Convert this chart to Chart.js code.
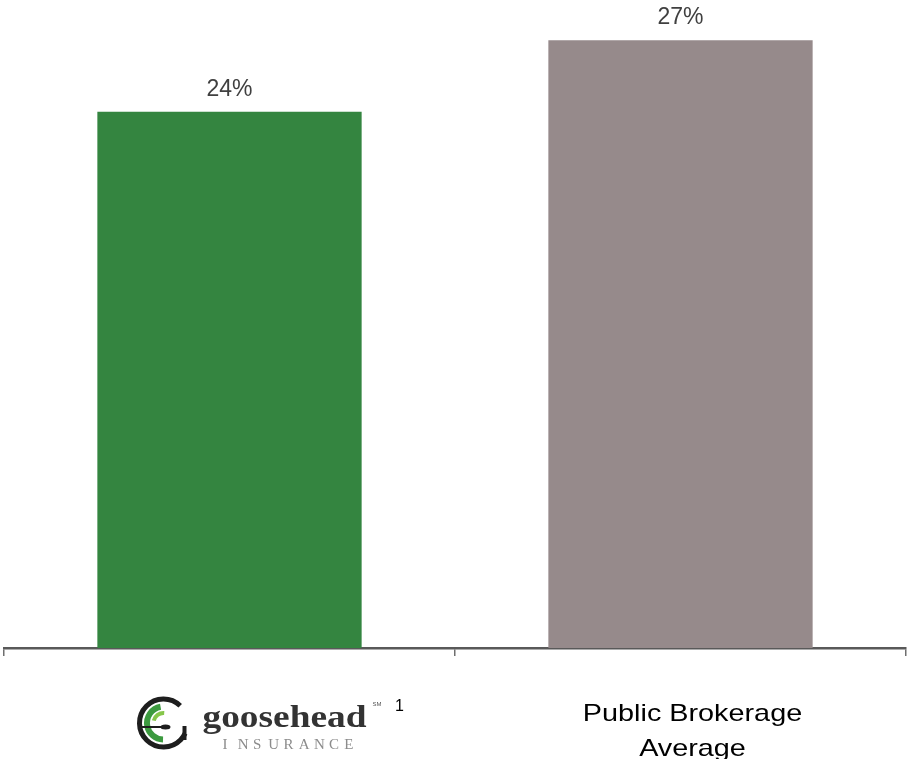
<!DOCTYPE html>
<html><head><meta charset="utf-8">
<script src="https://cdn.jsdelivr.net/npm/chart.js@4.4.0/dist/chart.umd.min.js"></script>
<style>html,body{margin:0;padding:0;background:#fff;overflow:hidden}#wrap{width:907px;height:759px;position:relative}</style>
</head><body><div id="wrap"><canvas id="c"></canvas></div>
<script>
const categories = ["goosehead INSURANCE", "Public Brokerage Average"];
const values = [24.0, 27.2];
const valueLabels = ["24%", "27%"];
const footnotes = ["1", ""];
const barColors = ["#348540", "#968a8b"];

function drawLogo(ctx, cx, cy) {
  ctx.save();
  ctx.lineCap = 'butt';
  ctx.strokeStyle = '#1e1e1e';
  ctx.lineWidth = 5;
  ctx.beginPath();
  ctx.arc(cx, cy, 24, -0.8, 0.45, true);
  ctx.stroke();
  ctx.strokeStyle = '#3c9a3f';
  ctx.lineWidth = 6;
  ctx.beginPath();
  ctx.arc(cx, cy, 16.5, -1.75, 1.6, true);
  ctx.stroke();
  ctx.strokeStyle = '#86c64a';
  ctx.lineWidth = 4;
  ctx.beginPath();
  ctx.arc(cx, cy, 10, -1.5, -2.9, true);
  ctx.stroke();
  ctx.fillStyle = '#1e1e1e';
  ctx.fillRect(cx - 22, cy + 3, 26, 2);
  ctx.beginPath();
  ctx.ellipse(cx + 2, cy + 4, 5, 2.5, 0, 0, Math.PI * 2);
  ctx.fill();
  ctx.fillRect(cx + 19, cy + 3, 4, 14);
  ctx.restore();
}

const labelPlugin = {
  id: 'labels',
  afterDatasetsDraw(chart) {
    const ctx = chart.ctx;
    const meta = chart.getDatasetMeta(0);
    ctx.save();
    ctx.fillStyle = '#404040';
    ctx.font = '23px "Liberation Sans", Arial, sans-serif';
    ctx.textAlign = 'center';
    ctx.textBaseline = 'alphabetic';
    meta.data.forEach((bar, i) => {
      ctx.fillText(valueLabels[i], bar.x, bar.y - 16);
    });
    ctx.restore();
  },
  afterDraw(chart) {
    const ctx = chart.ctx;
    const xs = chart.scales.x;
    const x0 = xs.getPixelForValue(0);
    const x1 = xs.getPixelForValue(1);
    ctx.save();
    drawLogo(ctx, x0 - 66, 723);
    const parts = categories[0].split(' ');
    ctx.fillStyle = '#333333';
    ctx.font = 'bold 31px "Liberation Serif", "Times New Roman", serif';
    ctx.textAlign = 'left';
    ctx.textBaseline = 'alphabetic';
    const gx = x0 - 27;
    const gw = ctx.measureText(parts[0]).width;
    ctx.save();
    ctx.translate(gx, 727);
    ctx.scale(164 / gw, 1);
    ctx.fillText(parts[0], 0, 0);
    ctx.restore();
    ctx.font = '6px "Liberation Sans", Arial, sans-serif';
    ctx.fillStyle = '#555';
    ctx.fillText('SM', gx + 170, 706);
    ctx.fillStyle = '#8c8c8c';
    ctx.font = '15px "Liberation Serif", "Times New Roman", serif';
    const word = parts[1];
    const startX = gx + 20, endX = gx + 151;
    const lastW = ctx.measureText(word[word.length - 1]).width;
    const step = (endX - startX - lastW) / (word.length - 1);
    for (let i = 0; i < word.length; i++) {
      ctx.fillText(word[i], startX + i * step, 749);
    }
    ctx.fillStyle = '#000';
    ctx.font = '16px "Liberation Sans", Arial, sans-serif';
    ctx.textAlign = 'center';
    ctx.fillText(footnotes[0], x0 + 170, 711);

    ctx.fillStyle = '#000';
    ctx.font = '24px "Liberation Sans", Arial, sans-serif';
    const words = categories[1].split(' ');
    const lines = [words.slice(0, 2).join(' '), words.slice(2).join(' ')];
    const cx2 = x1 + 12;
    [721, 756].forEach((y, i) => {
      ctx.save();
      ctx.translate(cx2, y);
      ctx.scale(1.2, 1);
      ctx.fillText(lines[i], 0, 0);
      ctx.restore();
    });
    ctx.restore();
  }
};

new Chart(document.getElementById('c'), {
  type: 'bar',
  data: {
    labels: categories,
    datasets: [{
      data: values,
      backgroundColor: barColors,
      borderWidth: 0,
      categoryPercentage: 1.0,
      barPercentage: 0.586
    }]
  },
  options: {
    responsive: true,
    maintainAspectRatio: false,
    animation: false,
    events: [],
    layout: { padding: { left: 4, right: 1, top: 0, bottom: 0 } },
    plugins: { legend: { display: false }, tooltip: { enabled: false } },
    scales: {
      x: {
        grid: { offset: true, drawOnChartArea: false, drawTicks: true, tickLength: 8, color: '#6f6f6f', tickColor: '#6f6f6f', tickWidth: 1.5, lineWidth: 1.5 },
        border: { display: true, color: '#595959', width: 2.5 },
        ticks: { display: false },
        afterFit(scale) { scale.height = 111; }
      },
      y: { display: false, min: 0, max: 29 }
    }
  },
  plugins: [labelPlugin]
});
</script></body></html>
